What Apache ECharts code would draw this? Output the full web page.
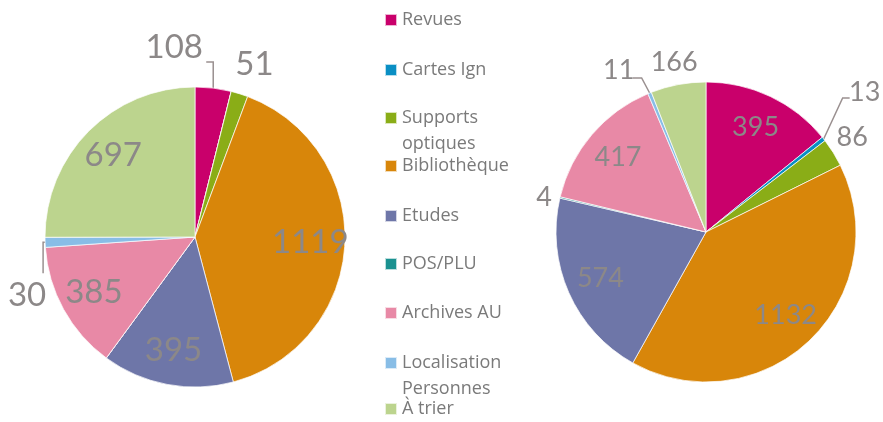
<!DOCTYPE html>
<html>
<head>
<meta charset="utf-8">
<script src="https://cdn.jsdelivr.net/npm/echarts@6/dist/echarts.min.js"></script>
<style>
html,body{margin:0;padding:0;background:#fff;}
#main{width:883px;height:422px;}
</style>
</head>
<body>
<div id="main"></div>
<script>
const categories = ['Revues', 'Cartes Ign', 'Supports optiques', 'Bibliothèque', 'Etudes', 'POS/PLU', 'Archives AU', 'Localisation Personnes', 'À trier'];
const legendLabels = ['Revues', 'Cartes Ign', 'Supports\noptiques', 'Bibliothèque', 'Etudes', 'POS/PLU', 'Archives AU', 'Localisation\nPersonnes', 'À trier'];
const leftValues = [108, 0, 51, 1119, 395, 0, 385, 30, 697];
const rightValues = [395, 13, 86, 1132, 574, 4, 417, 11, 166];
const colors = ['#c9006b', '#0a8fc4', '#8aad17', '#d8860a', '#6e76a8', '#1a9190', '#e889a6', '#88bde6', '#bcd48e'];

// layout: legend marker centre y positions
const legendCentres = [19, 69, 117, 165, 215, 263, 312, 362, 408];

// layout: outside label offsets relative to slice edge anchor, and leader line shapes
const leftOutside = {
  'Revues': { dx: -39, dy: -41, line: [[0, 0], [0, -26], [-7, -26]] },
  'Supports optiques': { dx: 15, dy: -29, line: null },
  'Localisation Personnes': { dx: -18, dy: 53, line: [[0, 0], [-2, 0], [-2, 31]] }
};
const rightOutside = {
  'Cartes Ign': { dx: 41, dy: -47, line: [[0, 0], [19, -41], [26, -41]] },
  'Supports optiques': { dx: 19, dy: -15, line: null },
  'POS/PLU': { dx: -16, dy: 0, line: null },
  'Localisation Personnes': { dx: -31, dy: -23, line: [[0, 0], [-8, -15], [-17, -15]] },
  'À trier': { dx: -4, dy: -22, line: null }
};

const labelColor = '#8c8888';
const numFont = 'Lato, "Open Sans", sans-serif';

function buildSeries(values, center, radius, fontSize, outside) {
  const main = {
    type: 'pie',
    center: center,
    radius: [0, radius],
    startAngle: 90,
    clockwise: true,
    avoidLabelOverlap: false,
    animation: false,
    emphasis: { disabled: true },
    itemStyle: { borderColor: 'rgba(255,255,255,0.7)', borderWidth: 1 },
    labelLayout: function (params) {
      const name = categories[params.dataIndex];
      const o = outside[name];
      if (!o || !params.labelLinePoints) return {};
      const a = params.labelLinePoints[0];
      const res = {
        x: a[0] + o.dx,
        y: a[1] + o.dy,
        align: 'center',
        verticalAlign: 'middle'
      };
      if (o.line) {
        res.labelLinePoints = o.line.map(p => [a[0] + p[0], a[1] + p[1]]);
      } else {
        res.labelLinePoints = [a, a, a];
      }
      return res;
    },
    data: categories.map((name, i) => {
      const out = !!outside[name] && values[i] > 0;
      return {
        name: name,
        value: values[i],
        itemStyle: { color: colors[i] },
        label: {
          show: out,
          position: 'outside',
          color: labelColor,
          fontFamily: numFont,
          fontSize: fontSize,
          overflow: 'none',
          formatter: '{c}'
        },
        labelLine: {
          show: out,
          length: 12,
          length2: 6,
          lineStyle: { color: '#9a9090', width: (out && outside[name].line) ? 1.5 : 0, opacity: (out && outside[name].line) ? 1 : 0 }
        }
      };
    })
  };
  const overlay = {
    type: 'pie',
    center: center,
    radius: [radius * 0.5, radius],
    startAngle: 90,
    clockwise: true,
    silent: true,
    animation: false,
    emphasis: { disabled: true },
    itemStyle: { color: 'transparent' },
    labelLine: { show: false },
    data: categories.map((name, i) => ({
      name: name,
      value: values[i],
      itemStyle: { color: 'transparent' },
      label: {
        show: values[i] > 0 && !outside[name],
        position: 'inside',
        color: labelColor,
        fontFamily: numFont,
        fontSize: fontSize,
        formatter: '{c}'
      }
    }))
  };
  return [main, overlay];
}

const legends = categories.map((name, i) => {
  const multi = legendLabels[i].indexOf('\n') >= 0;
  return {
    data: [name],
    left: 384,
    top: multi ? legendCentres[i] - 38 : legendCentres[i] - 12,
    orient: 'vertical',
    padding: 0,
    icon: 'rect',
    itemWidth: 12,
    itemHeight: 12,
    formatter: () => (multi ? ' \n' : '') + legendLabels[i],
    textStyle: {
      color: '#7a7a7a',
      fontSize: 18,
      fontFamily: '"Open Sans", sans-serif',
      lineHeight: 26
    }
  };
});

const chart = echarts.init(document.getElementById('main'));
chart.setOption({
  animation: false,
  backgroundColor: '#ffffff',
  color: colors,
  legend: legends,
  series: [
    ...buildSeries(leftValues, [195, 237], 150, 33, leftOutside),
    ...buildSeries(rightValues, [706, 232], 150, 27, rightOutside)
  ]
});
</script>
</body>
</html>
